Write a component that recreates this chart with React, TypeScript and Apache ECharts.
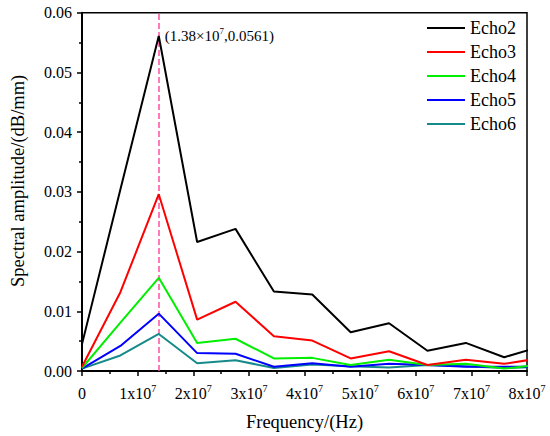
import React, { useEffect, useRef } from "react";
import * as echarts from "echarts";

const FREQ = [0, 0.69e7, 1.38e7, 2.07e7, 2.76e7, 3.45e7, 4.14e7, 4.83e7, 5.52e7, 6.21e7, 6.9e7, 7.59e7, 8.28e7];
const ECHO2 = [0.0045, 0.0304, 0.0561, 0.0216, 0.0238, 0.0133, 0.0128, 0.0065, 0.008, 0.0034, 0.0047, 0.0023, 0.0042];
const ECHO3 = [0.0007, 0.0132, 0.0296, 0.0086, 0.0116, 0.0058, 0.0051, 0.0021, 0.0033, 0.001, 0.0019, 0.0012, 0.0022];
const ECHO4 = [0.0005, 0.0081, 0.0156, 0.0047, 0.0054, 0.0021, 0.0022, 0.001, 0.0019, 0.001, 0.0012, 0.0004, 0.0011];
const ECHO5 = [0.0004, 0.0042, 0.0096, 0.003, 0.0029, 0.0007, 0.0013, 0.0007, 0.0012, 0.001, 0.0007, 0.0007, 0.0007];
const ECHO6 = [0.0004, 0.0026, 0.0062, 0.0013, 0.0018, 0.0005, 0.0011, 0.0008, 0.0006, 0.001, 0.0008, 0.0005, 0.0007];
const SERIES_NAMES = ["Echo2", "Echo3", "Echo4", "Echo5", "Echo6"];
const SERIES_VALUES = [ECHO2, ECHO3, ECHO4, ECHO5, ECHO6];
const COLORS = ["#000000", "#FF0000", "#00EE00", "#0000FF", "#168A8A"];
const PEAK_X = 1.38e7;
const PEAK_Y = 0.0561;

const FONT = "'Liberation Serif', 'Times New Roman', serif";

export default function App() {
  const ref = useRef<HTMLDivElement>(null);
  useEffect(() => {
    if (!ref.current) return;
    const chart = echarts.init(ref.current, undefined, { renderer: "svg" });
    const series: any[] = SERIES_NAMES.map((name, i) => {
      const s: any = {
        name,
        type: "line",
        data: FREQ.map((f, j) => [f, SERIES_VALUES[i][j]]),
        symbol: "none",
        clip: true,
        lineStyle: { color: COLORS[i], width: 2 },
        itemStyle: { color: COLORS[i] },
        z: 10 - i,
      };
      if (i === 0) {
        s.markLine = {
          silent: true,
          symbol: "none",
          label: { show: false },
          lineStyle: { color: "#FF4FA3", type: [6, 3], width: 1.5 },
          data: [{ xAxis: PEAK_X }],
        };
        s.markPoint = {
          symbol: "circle",
          symbolSize: 0,
          data: [{ coord: [PEAK_X, PEAK_Y] }],
          label: {
            show: true,
            position: "right",
            distance: 6,
            formatter: () => `{b|(1.38×10}{s|7}{b|,0.0561)}`,
            rich: {
              b: { fontFamily: FONT, fontSize: 15, color: "#000", lineHeight: 18 },
              s: { fontFamily: FONT, fontSize: 9, color: "#000", lineHeight: 9, verticalAlign: "top" },
            },
          },
        };
      }
      return s;
    });
    chart.setOption({
      animation: false,
      backgroundColor: "#fff",
      grid: {
        left: 79,
        right: 23,
        top: 12.7,
        bottom: 63.7,
        show: true,
        borderColor: "#000",
        borderWidth: 1.5,
      },
      legend: {
        orient: "vertical",
        left: 422,
        top: 14,
        itemWidth: 38,
        itemHeight: 2,
        itemGap: 6,
        icon: "rect",
        textStyle: { fontFamily: FONT, fontSize: 18, color: "#000" },
        data: SERIES_NAMES,
      },
      xAxis: {
        type: "value",
        min: 0,
        max: 8e7,
        interval: 1e7,
        name: "Frequency/(Hz)",
        nameLocation: "middle",
        nameGap: 41,
        nameTextStyle: { fontFamily: FONT, fontSize: 18.5, color: "#000" },
        axisLine: { show: true, onZero: false, lineStyle: { color: "#000", width: 2 } },
        axisTick: { show: true, inside: false, length: 5, lineStyle: { color: "#000", width: 1.5 } },
        minorTick: { show: true, splitNumber: 2, length: 3, lineStyle: { color: "#000", width: 1.5 } },
        splitLine: { show: false },
        axisLabel: {
          margin: 12,
          color: "#000",
          formatter: (v: number) => (v === 0 ? "{b|0}" : `{b|${Math.round(v / 1e7)}x10}{s|7}`),
          rich: {
            b: { fontFamily: FONT, fontSize: 16, color: "#000", lineHeight: 20 },
            s: { fontFamily: FONT, fontSize: 10, color: "#000", lineHeight: 10, verticalAlign: "top" },
          },
        },
      },
      yAxis: {
        type: "value",
        min: 0,
        max: 0.06,
        interval: 0.01,
        name: "Spectral amplitude/(dB/mm)",
        nameLocation: "middle",
        nameGap: 55,
        nameTextStyle: { fontFamily: FONT, fontSize: 18.5, color: "#000", padding: [0, 0, 0, 22] },
        axisLine: { show: true, onZero: false, lineStyle: { color: "#000", width: 2 } },
        axisTick: { show: true, inside: false, length: 5, lineStyle: { color: "#000", width: 1.5 } },
        minorTick: { show: true, splitNumber: 2, length: 3, lineStyle: { color: "#000", width: 1.5 } },
        splitLine: { show: false },
        axisLabel: {
          margin: 10,
          fontFamily: FONT,
          fontSize: 16,
          color: "#000",
          formatter: (v: number) => v.toFixed(2),
        },
      },
      series,
    });
    return () => chart.dispose();
  }, []);
  return (
    <div
      ref={ref}
      style={{ position: "fixed", left: 0, top: 0, width: 550, height: 436, background: "#fff" }}
    />
  );
}
